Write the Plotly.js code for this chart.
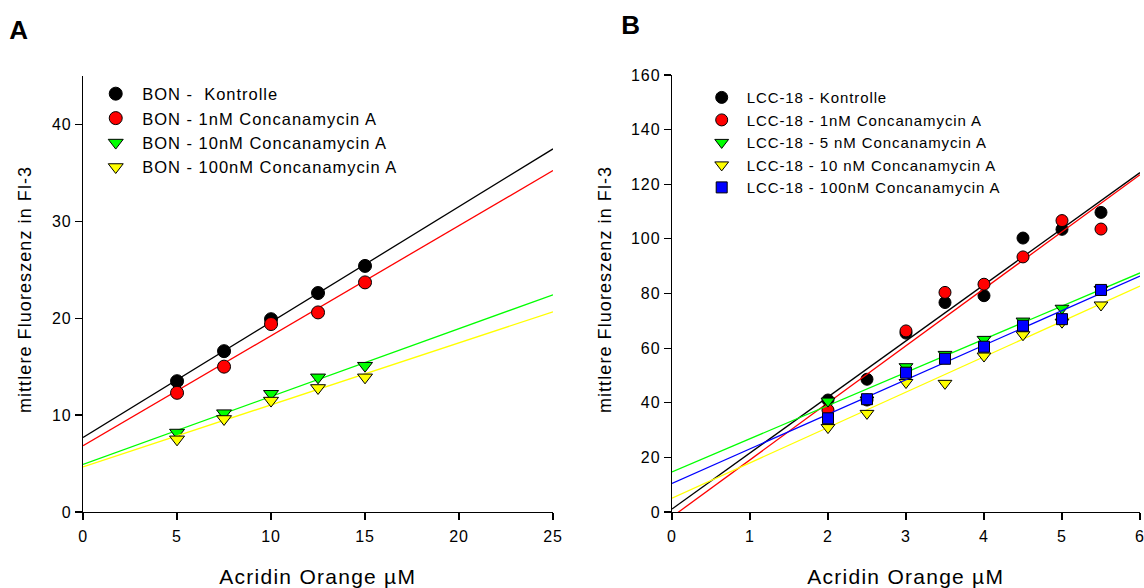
<!DOCTYPE html>
<html><head><meta charset="utf-8">
<script src="https://cdn.plot.ly/plotly-3.0.1.min.js"></script>
<style>
html,body{margin:0;padding:0;background:#fff}
#chart text{letter-spacing:0.06em}
#chart .scrollbox, #chart .scrollbox g{clip-path:none !important}
</style>
</head><body><div id="chart" style="width:1144px;height:588px"></div>
<script>
// Panel A (BON)
const xA = [5, 7.5, 10, 12.5, 15];
const A_kontrolle = [13.5, 16.6, 19.9, 22.6, 25.4];
const A_1nM = [12.3, 15.0, 19.4, 20.6, 23.7];
const A_10nM = [8.2, 10.2, 12.2, 13.9, 15.1];
const A_100nM = [7.5, 9.6, 11.5, 12.8, 13.9];
const namesA = ["BON -  Kontrolle", "BON - 1nM Concanamycin A", "BON - 10nM Concanamycin A", "BON - 100nM Concanamycin A"];

// Panel B (LCC-18)
const xB = [2, 2.5, 3, 3.5, 4, 4.5, 5, 5.5];
const B_kontrolle = [41.0, 48.6, 65.5, 76.7, 79.2, 100.3, 103.5, 109.7];
const B_1nM = [37.3, 41.0, 66.3, 80.4, 83.4, 93.4, 106.7, 103.6];
const B_5nM = [40.6, 41.0, 53.2, 57.7, 63.2, 69.9, 74.6, 81.5];
const B_10nM = [30.9, 36.1, 47.4, 47.1, 57.1, 64.9, 69.5, 75.8];
const B_100nM = [34.3, 41.3, 51.0, 56.1, 60.5, 68.2, 70.6, 81.3];
const namesB = ["LCC-18 - Kontrolle", "LCC-18 - 1nM Concanamycin A", "LCC-18 - 5 nM Concanamycin A", "LCC-18 - 10 nM Concanamycin A", "LCC-18 - 100nM Concanamycin A"];

const ticksAx = [0, 5, 10, 15, 20, 25];
const ticksAy = [0, 10, 20, 30, 40];
const ticksBx = [0, 1, 2, 3, 4, 5, 6];
const ticksBy = [0, 20, 40, 60, 80, 100, 120, 140, 160];

const FONT = "Arial, 'Liberation Sans', sans-serif";

function fit(x, y) {
  const n = x.length;
  const mx = x.reduce((a,b)=>a+b,0)/n, my = y.reduce((a,b)=>a+b,0)/n;
  let sxy=0, sxx=0;
  for (let i=0;i<n;i++){ sxy+=(x[i]-mx)*(y[i]-my); sxx+=(x[i]-mx)**2; }
  const b = sxy/sxx; return [my-b*mx, b];
}

const traces = [];
function addSeries(x, y, name, color, symbol, size, xa, ya, legend, xmax, grp) {
  const [a, b] = fit(x, y);
  const xl = [0, xmax];
  traces.push({x: xl, y: xl.map(v=>a+b*v), mode:'lines', line:{color:color, width:1.3},
    xaxis:xa, yaxis:ya, showlegend:false, hoverinfo:'skip'});
  traces.push({x:x, y:y, mode:'markers', name:name, legend:legend, legendgroup:grp, xaxis:xa, yaxis:ya,
    marker:{color:color, symbol:symbol, size:size, line:{color:'#000', width:1}}});
}
const colA = ['#000000','#ff0000','#00ff00','#ffff00'];
const symA = ['circle','circle','triangle-down','triangle-down'];
[A_kontrolle, A_1nM, A_10nM, A_100nM].forEach((s,i)=>addSeries(xA, s, namesA[i], colA[i], symA[i], 13, 'x','y','legend',25,'a'+i));
const colB = ['#000000','#ff0000','#00ff00','#ffff00','#0000ff'];
const symB = ['circle','circle','triangle-down','triangle-down','square'];
[B_kontrolle, B_1nM, B_5nM, B_10nM, B_100nM].forEach((s,i)=>addSeries(xB, s, namesB[i], colB[i], symB[i], i===4?11:12, 'x2','y2','legend2',6,'b'+i));

const axBase = {showgrid:false, zeroline:false, showline:true, linecolor:'#000', linewidth:1.2,
  ticks:'outside', ticklen:7, tickwidth:1.2, tickcolor:'#000', ticklabeloverflow:'allow',
  tickfont:{family:FONT, size:16, color:'#000'}};

const layout = {
  width:1144, height:588, margin:{l:0,r:0,t:0,b:0}, paper_bgcolor:'#fff', plot_bgcolor:'#fff',
  font:{family:FONT, color:'#000'},
  xaxis: Object.assign({}, axBase, {domain:[0.0726,0.4834], range:[0,25], tickvals:ticksAx, anchor:'y', ticklabelstandoff:3}),
  yaxis: Object.assign({}, axBase, {domain:[0.1293,0.8707], range:[0,45], tickvals:ticksAy, anchor:'x'}),
  xaxis2: Object.assign({}, axBase, {domain:[0.5874,0.9965], range:[0,6], tickvals:ticksBx, anchor:'y2', ticklabelstandoff:3}),
  yaxis2: Object.assign({}, axBase, {domain:[0.1293,0.8724], range:[0,160], tickvals:ticksBy, anchor:'x2'}),
  legend: {x:0.078, y:0.870, xanchor:'left', yanchor:'top', bgcolor:'rgba(0,0,0,0)', font:{family:FONT, size:16.5}, tracegroupgap:0, itemwidth:43},
  legend2: {x:0.609, y:0.862, xanchor:'left', yanchor:'top', bgcolor:'rgba(0,0,0,0)', font:{family:FONT, size:15}, tracegroupgap:0, itemwidth:40},
  annotations: [
    {text:'<b>A</b>', x:19/1144, y:1-30/588, xref:'paper', yref:'paper', showarrow:false, font:{size:26, family:FONT}, xanchor:'center', yanchor:'middle'},
    {text:'<b>B</b>', x:631/1144, y:1-25/588, xref:'paper', yref:'paper', showarrow:false, font:{size:26, family:FONT}, xanchor:'center', yanchor:'middle'},
    {text:'Acridin Orange µM', x:318/1144, y:1-576/588, xref:'paper', yref:'paper', showarrow:false, font:{size:21, family:FONT}, xanchor:'center', yanchor:'middle'},
    {text:'Acridin Orange µM', x:906/1144, y:1-576/588, xref:'paper', yref:'paper', showarrow:false, font:{size:21, family:FONT}, xanchor:'center', yanchor:'middle'},
    {text:'mittlere Fluoreszenz in Fl-3', x:25/1144, y:1-290/588, xref:'paper', yref:'paper', showarrow:false, textangle:-90, font:{size:18, family:FONT}, xanchor:'center', yanchor:'middle'},
    {text:'mittlere Fluoreszenz in Fl-3', x:605/1144, y:1-290/588, xref:'paper', yref:'paper', showarrow:false, textangle:-90, font:{size:18, family:FONT}, xanchor:'center', yanchor:'middle'}
  ]
};
Plotly.newPlot('chart', traces, layout, {displayModeBar:false, staticPlot:true});
</script></body></html>
